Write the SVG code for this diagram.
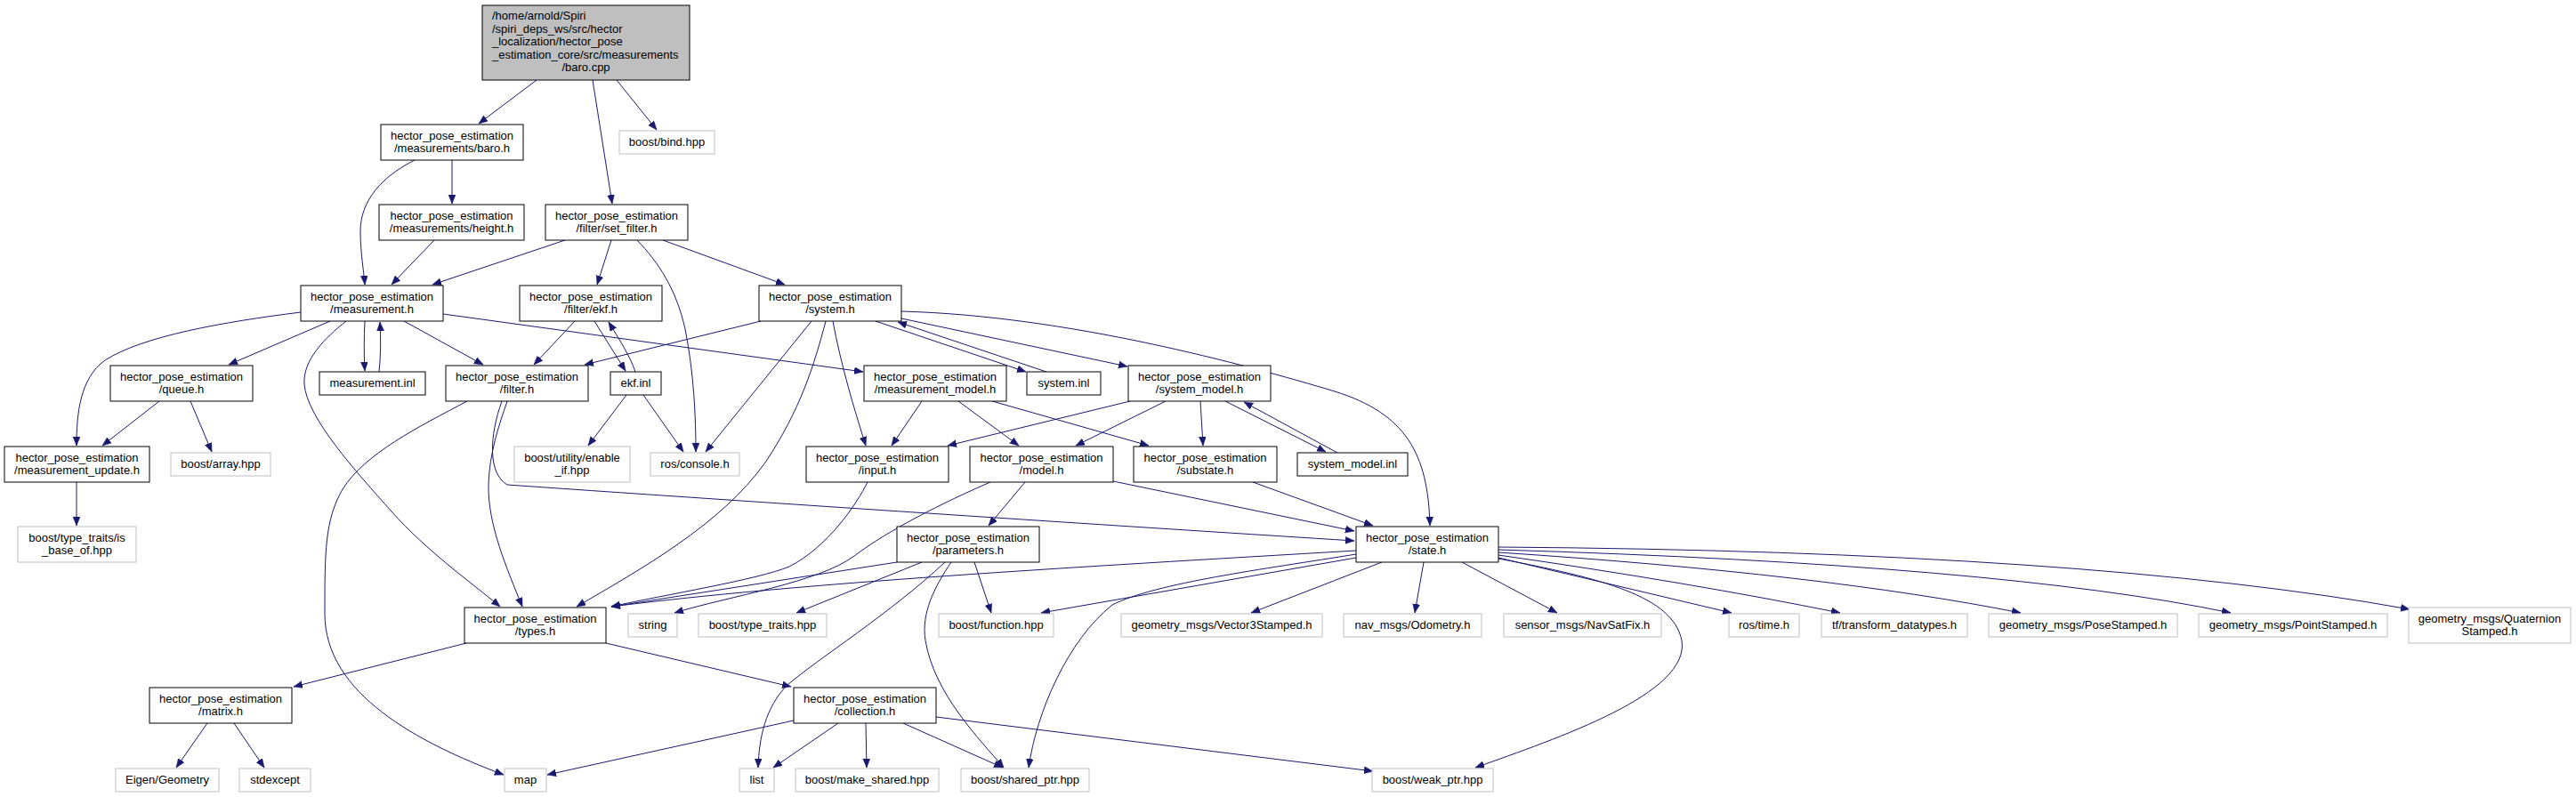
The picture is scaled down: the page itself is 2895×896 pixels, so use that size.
<svg xmlns="http://www.w3.org/2000/svg" width="2895" height="896" viewBox="0 0 2895 896">
<style>
text{font-family:"Liberation Sans",Arial,Helvetica,sans-serif;font-size:13px;fill:#000;text-anchor:middle}
.n{fill:#fff;stroke:#000;stroke-width:1}
.g{fill:#fff;stroke:#bfbfbf;stroke-width:1}
.m{fill:#bfbfbf;stroke:#000;stroke-width:1}
.e path{fill:none;stroke:#191970;stroke-width:1;marker-end:url(#ah)}
</style>
<defs>
<marker id="ah" markerUnits="userSpaceOnUse" markerWidth="11" markerHeight="9" refX="10" refY="4" orient="auto">
<path d="M0,0 L10,4 L0,8 z" fill="#191970" stroke="#191970" stroke-width="0.5"/>
</marker>
</defs>
<rect width="2895" height="896" fill="#fff"/>
<g id="edges" class="e">
<path d="M603,90 L538,139"/>
<path d="M666,90 L688,229"/>
<path d="M693,90 L738,146"/>
<path d="M466,180 C430,198 405,225 405,260 C405,285 409,305 410,320"/>
<path d="M508,180 L508,229"/>
<path d="M488,270 L440,320"/>
<path d="M635,270 L486,320"/>
<path d="M687,270 L671,320"/>
<path d="M716,270 C740,295 760,325 770,370 C780,420 782,470 782,508"/>
<path d="M745,270 L882,320"/>
<path d="M338,351 C250,362 160,378 118,405 C90,425 86,465 86,501"/>
<path d="M371,361 L257,410"/>
<path d="M410,361 C409,380 409,400 410,417"/>
<path d="M426,418 C428,400 428,380 427,362"/>
<path d="M454,361 L543,410"/>
<path d="M389,361 C365,380 340,405 342,432 C345,470 400,530 440,575 C480,620 530,655 562,682"/>
<path d="M498,353 L970,418"/>
<path d="M179,451 L115,501"/>
<path d="M214,451 L238,508"/>
<path d="M86,542 L86,591"/>
<path d="M646,361 L600,410"/>
<path d="M668,361 L703,417"/>
<path d="M714,418 C708,400 695,380 684,362"/>
<path d="M704,444 L661,501"/>
<path d="M723,444 L768,508"/>
<path d="M855,361 L657,410"/>
<path d="M912,361 L793,508"/>
<path d="M928,361 C915,410 900,460 860,520 C810,590 720,640 648,682"/>
<path d="M936,361 C945,410 960,460 973,501"/>
<path d="M984,361 L1153,418"/>
<path d="M1176,418 L1009,362"/>
<path d="M1013,358 L1267,412"/>
<path d="M1013,350 C1200,355 1400,410 1500,440 C1580,465 1605,510 1607,591"/>
<path d="M1270,451 L1065,501"/>
<path d="M1310,451 L1209,501"/>
<path d="M1349,451 L1352,501"/>
<path d="M1377,451 L1490,508"/>
<path d="M1503,509 L1398,452"/>
<path d="M1036,451 L1002,501"/>
<path d="M1077,451 L1145,501"/>
<path d="M1115,451 L1291,501"/>
<path d="M975,542 C962,568 930,615 887,637 C850,652 750,668 687,682"/>
<path d="M1113,542 C1060,565 1000,595 960,625 C920,655 820,670 758,689"/>
<path d="M1152,542 L1111,591"/>
<path d="M1251,541 L1522,597"/>
<path d="M1408,542 L1543,591"/>
<path d="M1008,632 L687,682"/>
<path d="M1036,632 L895,689"/>
<path d="M1062,632 C1000,690 920,740 885,770 C860,795 853,830 852,863"/>
<path d="M1069,632 C1050,660 1035,690 1040,720 C1050,780 1100,830 1128,863"/>
<path d="M1095,632 L1114,689"/>
<path d="M1524,619 C1200,638 900,655 687,682"/>
<path d="M1524,623 C1420,640 1300,655 1250,680 C1200,720 1165,800 1156,863"/>
<path d="M1524,627 L1170,689"/>
<path d="M1553,632 L1406,689"/>
<path d="M1600,632 L1590,689"/>
<path d="M1643,632 L1750,689"/>
<path d="M1684,627 L1946,689"/>
<path d="M1684,624 Q1900,655 2068,689"/>
<path d="M1684,621 Q2050,645 2271,689"/>
<path d="M1684,618 Q2250,635 2507,689"/>
<path d="M1684,615 Q2350,620 2708,685"/>
<path d="M1684,628 C1800,650 1880,670 1890,720 C1900,780 1750,830 1658,863"/>
<path d="M524,723 L330,772"/>
<path d="M681,723 L889,772"/>
<path d="M233,813 L198,863"/>
<path d="M263,813 L297,863"/>
<path d="M892,810 L615,871"/>
<path d="M942,813 L869,863"/>
<path d="M973,813 L974,863"/>
<path d="M1015,813 L1127,863"/>
<path d="M1052,806 L1543,867"/>
<path d="M570,451 C560,480 550,510 549,545 C548,590 570,640 587,682"/>
<path d="M525,451 C470,480 410,510 385,550 C365,585 365,620 365,690 C365,780 470,835 566,871"/>
<path d="M564,451 C550,490 548,532 570,545 C900,568 1300,594 1522,608"/>
</g>
<g id="baro_cpp"><rect class="m" x="542" y="6" width="233" height="84"/>
<text x="553" y="22" style="text-anchor:start">/home/arnold/Spiri</text>
<text x="553" y="36.6" style="text-anchor:start">/spiri_deps_ws/src/hector</text>
<text x="553" y="51.2" style="text-anchor:start">_localization/hector_pose</text>
<text x="553" y="65.8" style="text-anchor:start">_estimation_core/src/measurements</text>
<text x="658.5" y="80.4">/baro.cpp</text></g>
<g id="baro_h"><rect class="n" x="428" y="140" width="160" height="40"/><text x="508" y="156.5">hector_pose_estimation</text><text x="508" y="171">/measurements/baro.h</text></g>
<g id="bind_hpp"><rect class="g" x="696" y="147" width="107" height="26"/><text x="749.5" y="164">boost/bind.hpp</text></g>
<g id="height_h"><rect class="n" x="426" y="230" width="163" height="40"/><text x="507.5" y="246.5">hector_pose_estimation</text><text x="507.5" y="261">/measurements/height.h</text></g>
<g id="set_filter_h"><rect class="n" x="613" y="230" width="160" height="40"/><text x="693" y="246.5">hector_pose_estimation</text><text x="693" y="261">/filter/set_filter.h</text></g>
<g id="measurement_h"><rect class="n" x="338" y="321" width="160" height="40"/><text x="418" y="337.5">hector_pose_estimation</text><text x="418" y="352">/measurement.h</text></g>
<g id="ekf_h"><rect class="n" x="584" y="321" width="160" height="40"/><text x="664" y="337.5">hector_pose_estimation</text><text x="664" y="352">/filter/ekf.h</text></g>
<g id="system_h"><rect class="n" x="853" y="321" width="160" height="40"/><text x="933" y="337.5">hector_pose_estimation</text><text x="933" y="352">/system.h</text></g>
<g id="queue_h"><rect class="n" x="124" y="411" width="160" height="40"/><text x="204" y="427.5">hector_pose_estimation</text><text x="204" y="442">/queue.h</text></g>
<g id="measurement_inl"><rect class="n" x="359" y="418" width="119" height="26"/><text x="418.5" y="435">measurement.inl</text></g>
<g id="filter_h"><rect class="n" x="501" y="411" width="160" height="40"/><text x="581" y="427.5">hector_pose_estimation</text><text x="581" y="442">/filter.h</text></g>
<g id="ekf_inl"><rect class="n" x="686" y="418" width="57" height="26"/><text x="714.5" y="435">ekf.inl</text></g>
<g id="measurement_model_h"><rect class="n" x="971" y="411" width="160" height="40"/><text x="1051" y="427.5">hector_pose_estimation</text><text x="1051" y="442">/measurement_model.h</text></g>
<g id="system_inl"><rect class="n" x="1154" y="418" width="83" height="26"/><text x="1195.5" y="435">system.inl</text></g>
<g id="system_model_h"><rect class="n" x="1268" y="411" width="160" height="40"/><text x="1348" y="427.5">hector_pose_estimation</text><text x="1348" y="442">/system_model.h</text></g>
<g id="measurement_update_h"><rect class="n" x="5" y="502" width="163" height="40"/><text x="86.5" y="518.5">hector_pose_estimation</text><text x="86.5" y="533">/measurement_update.h</text></g>
<g id="array_hpp"><rect class="g" x="192" y="509" width="112" height="26"/><text x="248" y="526">boost/array.hpp</text></g>
<g id="enable_if_hpp"><rect class="g" x="578" y="502" width="130" height="40"/><text x="643" y="518.5">boost/utility/enable</text><text x="643" y="533">_if.hpp</text></g>
<g id="console_h"><rect class="g" x="731" y="509" width="100" height="26"/><text x="781" y="526">ros/console.h</text></g>
<g id="input_h"><rect class="n" x="906" y="502" width="160" height="40"/><text x="986" y="518.5">hector_pose_estimation</text><text x="986" y="533">/input.h</text></g>
<g id="model_h"><rect class="n" x="1090" y="502" width="161" height="40"/><text x="1170.5" y="518.5">hector_pose_estimation</text><text x="1170.5" y="533">/model.h</text></g>
<g id="substate_h"><rect class="n" x="1274" y="502" width="161" height="40"/><text x="1354.5" y="518.5">hector_pose_estimation</text><text x="1354.5" y="533">/substate.h</text></g>
<g id="system_model_inl"><rect class="n" x="1458" y="509" width="124" height="26"/><text x="1520" y="526">system_model.inl</text></g>
<g id="is_base_of_hpp"><rect class="g" x="20" y="592" width="133" height="40"/><text x="86.5" y="608.5">boost/type_traits/is</text><text x="86.5" y="623">_base_of.hpp</text></g>
<g id="parameters_h"><rect class="n" x="1008" y="592" width="160" height="40"/><text x="1088" y="608.5">hector_pose_estimation</text><text x="1088" y="623">/parameters.h</text></g>
<g id="state_h"><rect class="n" x="1524" y="592" width="160" height="40"/><text x="1604" y="608.5">hector_pose_estimation</text><text x="1604" y="623">/state.h</text></g>
<g id="types_h"><rect class="n" x="522" y="683" width="159" height="40"/><text x="601.5" y="699.5">hector_pose_estimation</text><text x="601.5" y="714">/types.h</text></g>
<g id="string"><rect class="g" x="706" y="690" width="55" height="26"/><text x="733.5" y="707">string</text></g>
<g id="type_traits_hpp"><rect class="g" x="785" y="690" width="144" height="26"/><text x="857" y="707">boost/type_traits.hpp</text></g>
<g id="function_hpp"><rect class="g" x="1055" y="690" width="129" height="26"/><text x="1119.5" y="707">boost/function.hpp</text></g>
<g id="vector3stamped_h"><rect class="g" x="1260" y="690" width="226" height="26"/><text x="1373" y="707">geometry_msgs/Vector3Stamped.h</text></g>
<g id="odometry_h"><rect class="g" x="1510" y="690" width="155" height="26"/><text x="1587.5" y="707">nav_msgs/Odometry.h</text></g>
<g id="navsatfix_h"><rect class="g" x="1690" y="690" width="177" height="26"/><text x="1778.5" y="707">sensor_msgs/NavSatFix.h</text></g>
<g id="time_h"><rect class="g" x="1943" y="690" width="79" height="26"/><text x="1982.5" y="707">ros/time.h</text></g>
<g id="transform_datatypes_h"><rect class="g" x="2047" y="690" width="164" height="26"/><text x="2129" y="707">tf/transform_datatypes.h</text></g>
<g id="posestamped_h"><rect class="g" x="2235" y="690" width="212" height="26"/><text x="2341" y="707">geometry_msgs/PoseStamped.h</text></g>
<g id="pointstamped_h"><rect class="g" x="2471" y="690" width="212" height="26"/><text x="2577" y="707">geometry_msgs/PointStamped.h</text></g>
<g id="quaternionstamped_h"><rect class="g" x="2707" y="683" width="182" height="40"/><text x="2798" y="699.5">geometry_msgs/Quaternion</text><text x="2798" y="714">Stamped.h</text></g>
<g id="matrix_h"><rect class="n" x="168" y="773" width="160" height="40"/><text x="248" y="789.5">hector_pose_estimation</text><text x="248" y="804">/matrix.h</text></g>
<g id="collection_h"><rect class="n" x="892" y="773" width="160" height="40"/><text x="972" y="789.5">hector_pose_estimation</text><text x="972" y="804">/collection.h</text></g>
<g id="eigen_geometry"><rect class="g" x="130" y="864" width="116" height="26"/><text x="188" y="881">Eigen/Geometry</text></g>
<g id="stdexcept"><rect class="g" x="269" y="864" width="80" height="26"/><text x="309" y="881">stdexcept</text></g>
<g id="map"><rect class="g" x="567" y="864" width="47" height="26"/><text x="590.5" y="881">map</text></g>
<g id="list"><rect class="g" x="831" y="864" width="39" height="26"/><text x="850.5" y="881">list</text></g>
<g id="make_shared_hpp"><rect class="g" x="894" y="864" width="161" height="26"/><text x="974.5" y="881">boost/make_shared.hpp</text></g>
<g id="shared_ptr_hpp"><rect class="g" x="1080" y="864" width="144" height="26"/><text x="1152" y="881">boost/shared_ptr.hpp</text></g>
<g id="weak_ptr_hpp"><rect class="g" x="1542" y="864" width="136" height="26"/><text x="1610" y="881">boost/weak_ptr.hpp</text></g>
</svg>
